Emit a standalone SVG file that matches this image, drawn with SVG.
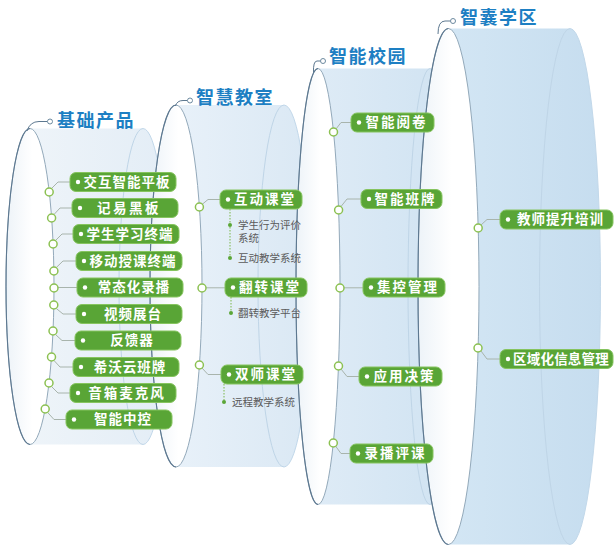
<svg xmlns="http://www.w3.org/2000/svg" width="614" height="552" viewBox="0 0 614 552">
<defs>
<linearGradient id="capG" x1="0" y1="0" x2="1" y2="0">
<stop offset="0" stop-color="#edf3f8"/><stop offset="0.55" stop-color="#ffffff"/><stop offset="1" stop-color="#ffffff"/>
</linearGradient>
<linearGradient id="b1" x1="0" y1="0" x2="1" y2="0"><stop offset="0" stop-color="#eef4f9"/><stop offset="1" stop-color="#e3edf6"/></linearGradient>
<linearGradient id="b2" x1="0" y1="0" x2="1" y2="0"><stop offset="0" stop-color="#e8f1f9"/><stop offset="1" stop-color="#dae8f4"/></linearGradient>
<linearGradient id="b3" x1="0" y1="0" x2="1" y2="0"><stop offset="0" stop-color="#deebf6"/><stop offset="1" stop-color="#d0e3f2"/></linearGradient>
<linearGradient id="b4" x1="0" y1="0" x2="1" y2="0"><stop offset="0" stop-color="#d3e6f4"/><stop offset="1" stop-color="#c6ddef"/></linearGradient>
</defs>
<style>
.cap{stroke:#93a9ba;stroke-width:1}
.capL{fill:none;stroke:#5d7890;stroke-width:1.1}
.hid{fill:none;stroke:#bfd5e7;stroke-width:1}
.sil{fill:none;stroke:#c2d8ea;stroke-width:1}
.title{font-family:"Noto Sans CJK SC",sans-serif;font-weight:700;font-size:18px;fill:#1d7fc3;letter-spacing:1.5px}
.tc{fill:#fff;stroke:#6d8aa0;stroke-width:1}
.tl{fill:none;stroke:#5d7890;stroke-width:1}
.box{fill:#59a536;stroke:#86c45f;stroke-width:1}
.bt{font-family:"Noto Sans CJK SC",sans-serif;font-size:13.5px;font-weight:600;fill:#fff;text-anchor:middle;letter-spacing:1px}
.bd{fill:#fff}
.cc{fill:#fff;stroke:#8cc152;stroke-width:1.5}
.cl{fill:none;stroke:#a8b4ac;stroke-width:1}
.sub{font-family:"Noto Sans CJK SC",sans-serif;font-size:10.5px;fill:#5a5a5a}
.sd{fill:#5aa637}
.dl{stroke:#7ab648;stroke-width:1;stroke-dasharray:1.5 1.5}
</style>

<!-- cylinders -->
<g id="cylinder1">
<path d="M30,128.5 H143 A24 158 0 0 1 143,444.5 H30 Z" fill="url(#b1)"/>
<path class="hid" d="M143,128.5 A24 158 0 0 0 143,444.5"/>
<path class="sil" d="M143,128.5 A24 158 0 0 1 143,444.5"/>
<ellipse class="cap" cx="30" cy="286.5" rx="24" ry="158" fill="url(#capG)"/>
<path class="capL" d="M30,128.5 A24 158 0 0 0 30,444.5"/>
</g>
<g id="cylinder2">
<path d="M176,105 H284 A26 181 0 0 1 284,467 H176 Z" fill="url(#b2)"/>
<path class="hid" d="M284,105 A26 181 0 0 0 284,467"/>
<path class="sil" d="M284,105 A26 181 0 0 1 284,467"/>
<ellipse class="cap" cx="176" cy="286" rx="26" ry="181" fill="url(#capG)"/>
<path class="capL" d="M176,105 A26 181 0 0 0 176,467"/>
</g>
<g id="cylinder3">
<path d="M318,68.5 H430 A22 218 0 0 1 430,504.5 H318 Z" fill="url(#b3)"/>
<path class="hid" d="M430,68.5 A22 218 0 0 0 430,504.5"/>
<path class="sil" d="M430,68.5 A22 218 0 0 1 430,504.5"/>
<ellipse class="cap" cx="318" cy="286.5" rx="22" ry="218" fill="url(#capG)"/>
<path class="capL" d="M318,68.5 A22 218 0 0 0 318,504.5"/>
</g>
<g id="cylinder4">
<path d="M448.5,28.5 H570 A30.5 258 0 0 1 570,544.5 H448.5 Z" fill="url(#b4)"/>
<path class="hid" d="M570,28.5 A30.5 258 0 0 0 570,544.5"/>
<path class="sil" d="M570,28.5 A30.5 258 0 0 1 570,544.5"/>
<ellipse class="cap" cx="448.5" cy="286.5" rx="30.5" ry="258" fill="url(#capG)"/>
<path class="capL" d="M448.5,28.5 A30.5 258 0 0 0 448.5,544.5"/>
</g>

<!-- connectors -->
<g id="connectors">
<path class="tl" d="M47.5,121.5 H39 Q30,121.5 27,131"/>
<path class="tl" d="M187.5,100.5 H183 Q177,100.5 175.5,106"/>
<path class="tl" d="M320.5,61 H317 Q313,61 313.5,73"/>
<path class="tl" d="M450.5,21 H445 Q438,21 438,34"/>
<path class="cl" d="M51.5,188.5 L58,182 H70"/>
<path class="cl" d="M54,214.5 L60,208 H72"/>
<path class="cl" d="M55.5,240.5 L62,234 H73"/>
<path class="cl" d="M56.3,267.5 L63,261 H76"/>
<path class="cl" d="M58,287.5 H77"/>
<path class="cl" d="M56.3,308.5 L63,314 H76"/>
<path class="cl" d="M55.5,334.5 L62,340.5 H75"/>
<path class="cl" d="M54,360.5 L60,367 H73"/>
<path class="cl" d="M51.5,386.5 L58,393 H70"/>
<path class="cl" d="M47.7,412.5 L54,419.5 H66"/>
<path class="cl" d="M202,204.5 L208,199.5 H220"/>
<path class="cl" d="M206,287.8 H225"/>
<path class="cl" d="M202,368 L208,374.5 H221"/>
<path class="cl" d="M336,129 L341,122.5 H351"/>
<path class="cl" d="M341,206.5 L347,199 H361"/>
<path class="cl" d="M344,287.8 H363"/>
<path class="cl" d="M341,369 L347,376.5 H359"/>
<path class="cl" d="M335.5,446 L341,453.5 H350"/>
<path class="cl" d="M481,225 L487,219.5 H500"/>
<path class="cl" d="M481,351 L487,359 H500"/>
<line class="dl" x1="230" y1="209" x2="230" y2="258"/>
<line class="dl" x1="231" y1="297" x2="231" y2="313"/>
<line class="dl" x1="224" y1="384" x2="224" y2="402"/>
<circle class="tc" cx="50" cy="121.5" r="2.5"/>
<circle class="tc" cx="190" cy="100.5" r="2.5"/>
<circle class="tc" cx="323" cy="61" r="2.5"/>
<circle class="tc" cx="453" cy="21" r="2.5"/>
<circle class="cc" cx="49.2" cy="192" r="4"/>
<circle class="cc" cx="51.6" cy="218" r="4"/>
<circle class="cc" cx="53.1" cy="244" r="4"/>
<circle class="cc" cx="53.9" cy="271" r="4"/>
<circle class="cc" cx="54" cy="288" r="4"/>
<circle class="cc" cx="53.8" cy="305" r="4"/>
<circle class="cc" cx="53" cy="331" r="4"/>
<circle class="cc" cx="51.5" cy="357" r="4"/>
<circle class="cc" cx="49" cy="383" r="4"/>
<circle class="cc" cx="45.2" cy="409" r="4"/>
<circle class="cc" cx="199.4" cy="207" r="4"/>
<circle class="cc" cx="202" cy="288" r="4"/>
<circle class="cc" cx="199.4" cy="365" r="4"/>
<circle class="cc" cx="333.5" cy="132" r="4"/>
<circle class="cc" cx="338.6" cy="210" r="4"/>
<circle class="cc" cx="340" cy="288" r="4"/>
<circle class="cc" cx="338.5" cy="366" r="4"/>
<circle class="cc" cx="333.3" cy="443" r="4"/>
<circle class="cc" cx="478.2" cy="228" r="4"/>
<circle class="cc" cx="478" cy="348" r="4"/>
</g>

<!-- titles -->
<g id="t1"><text class="title" x="57" y="126.5">基础产品</text></g>
<g id="t2"><text class="title" x="196" y="103.5">智慧教室</text></g>
<g id="t3"><text class="title" x="329" y="63">智能校园</text></g>
<g id="t4"><text class="title" x="460" y="23.5">智囊学区</text></g>

<!-- 基础产品 nodes -->
<g id="n1"><rect class="box" x="70" y="172.5" width="106" height="19" rx="6"/><circle class="bd" cx="78" cy="182" r="2.2"/><text class="bt" x="127" y="186.7">交互智能平板</text></g>
<g id="n2"><rect class="box" x="72" y="198.5" width="106" height="19" rx="6"/><circle class="bd" cx="80" cy="208" r="2.2"/><text class="bt" x="129" y="212.7" style="letter-spacing:2.5px">记易黑板</text></g>
<g id="n3"><rect class="box" x="73" y="224.5" width="106" height="19" rx="6"/><circle class="bd" cx="81" cy="234" r="2.2"/><text class="bt" x="130" y="238.7">学生学习终端</text></g>
<g id="n4"><rect class="box" x="76" y="251.5" width="106" height="19" rx="6"/><circle class="bd" cx="84" cy="261" r="2.2"/><text class="bt" x="133" y="265.7">移动授课终端</text></g>
<g id="n5"><rect class="box" x="77" y="278" width="106" height="19" rx="6"/><circle class="bd" cx="85" cy="287.5" r="2.2"/><text class="bt" x="134" y="292.2">常态化录播</text></g>
<g id="n6"><rect class="box" x="76" y="304.5" width="106" height="19" rx="6"/><circle class="bd" cx="84" cy="314" r="2.2"/><text class="bt" x="133" y="318.7">视频展台</text></g>
<g id="n7"><rect class="box" x="75" y="331" width="106" height="19" rx="6"/><circle class="bd" cx="83" cy="340.5" r="2.2"/><text class="bt" x="132" y="345.2">反馈器</text></g>
<g id="n8"><rect class="box" x="73" y="357.5" width="106" height="19" rx="6"/><circle class="bd" cx="81" cy="367" r="2.2"/><text class="bt" x="130" y="371.7">希沃云班牌</text></g>
<g id="n9"><rect class="box" x="70" y="383.5" width="106" height="19" rx="6"/><circle class="bd" cx="78" cy="393" r="2.2"/><text class="bt" x="127" y="397.7" style="letter-spacing:2px">音箱麦克风</text></g>
<g id="n10"><rect class="box" x="66" y="410" width="106" height="19" rx="6"/><circle class="bd" cx="74" cy="419.5" r="2.2"/><text class="bt" x="123" y="424.2">智能中控</text></g>

<!-- 智慧教室 nodes -->
<g id="n11"><rect class="box" x="220" y="190" width="82" height="19" rx="6"/><circle class="bd" cx="228" cy="199.5" r="2.2"/><text class="bt" x="265" y="204.2" style="letter-spacing:2px">互动课堂</text>
<circle class="sd" cx="230" cy="225" r="2"/><text class="sub" x="238" y="228.5">学生行为评价</text><text class="sub" x="238" y="242">系统</text>
<circle class="sd" cx="230" cy="258" r="2"/><text class="sub" x="238" y="261.5">互动教学系统</text></g>
<g id="n12"><rect class="box" x="225" y="278" width="82" height="19" rx="6"/><circle class="bd" cx="233" cy="287.5" r="2.2"/><text class="bt" x="270" y="292.2" style="letter-spacing:2px">翻转课堂</text>
<circle class="sd" cx="231" cy="313" r="2"/><text class="sub" x="238" y="316.5">翻转教学平台</text></g>
<g id="n13"><rect class="box" x="221" y="365" width="82" height="19" rx="6"/><circle class="bd" cx="229" cy="374.5" r="2.2"/><text class="bt" x="266" y="379.2" style="letter-spacing:2px">双师课堂</text>
<circle class="sd" cx="224" cy="402" r="2"/><text class="sub" x="232" y="405.5">远程教学系统</text></g>

<!-- 智能校园 nodes -->
<g id="n14"><rect class="box" x="351" y="113" width="83" height="19" rx="6"/><circle class="bd" cx="359" cy="122.5" r="2.2"/><text class="bt" x="396.5" y="127.2" style="letter-spacing:2px">智能阅卷</text></g>
<g id="n15"><rect class="box" x="361" y="189.5" width="81" height="19" rx="6"/><circle class="bd" cx="369" cy="199" r="2.2"/><text class="bt" x="405.5" y="203.7" style="letter-spacing:2px">智能班牌</text></g>
<g id="n16"><rect class="box" x="363" y="278" width="82" height="19" rx="6"/><circle class="bd" cx="371" cy="287.5" r="2.2"/><text class="bt" x="408" y="292.2" style="letter-spacing:2px">集控管理</text></g>
<g id="n17"><rect class="box" x="359" y="367" width="83" height="19" rx="6"/><circle class="bd" cx="367" cy="376.5" r="2.2"/><text class="bt" x="404.5" y="381.2" style="letter-spacing:2px">应用决策</text></g>
<g id="n18"><rect class="box" x="350" y="444" width="83" height="19" rx="6"/><circle class="bd" cx="358" cy="453.5" r="2.2"/><text class="bt" x="395.5" y="458.2" style="letter-spacing:2px">录播评课</text></g>

<!-- 智囊学区 nodes -->
<g id="n19"><rect class="box" x="500" y="210" width="113" height="19" rx="6"/><circle class="bd" cx="508" cy="219.5" r="2.2"/><text class="bt" x="560.5" y="224.2">教师提升培训</text></g>
<g id="n20"><rect class="box" x="500" y="349.5" width="113" height="19" rx="6"/><circle class="bd" cx="508" cy="359" r="2.2"/><text class="bt" x="561" y="363.7" style="letter-spacing:0.2px">区域化信息管理</text></g>
</svg>
